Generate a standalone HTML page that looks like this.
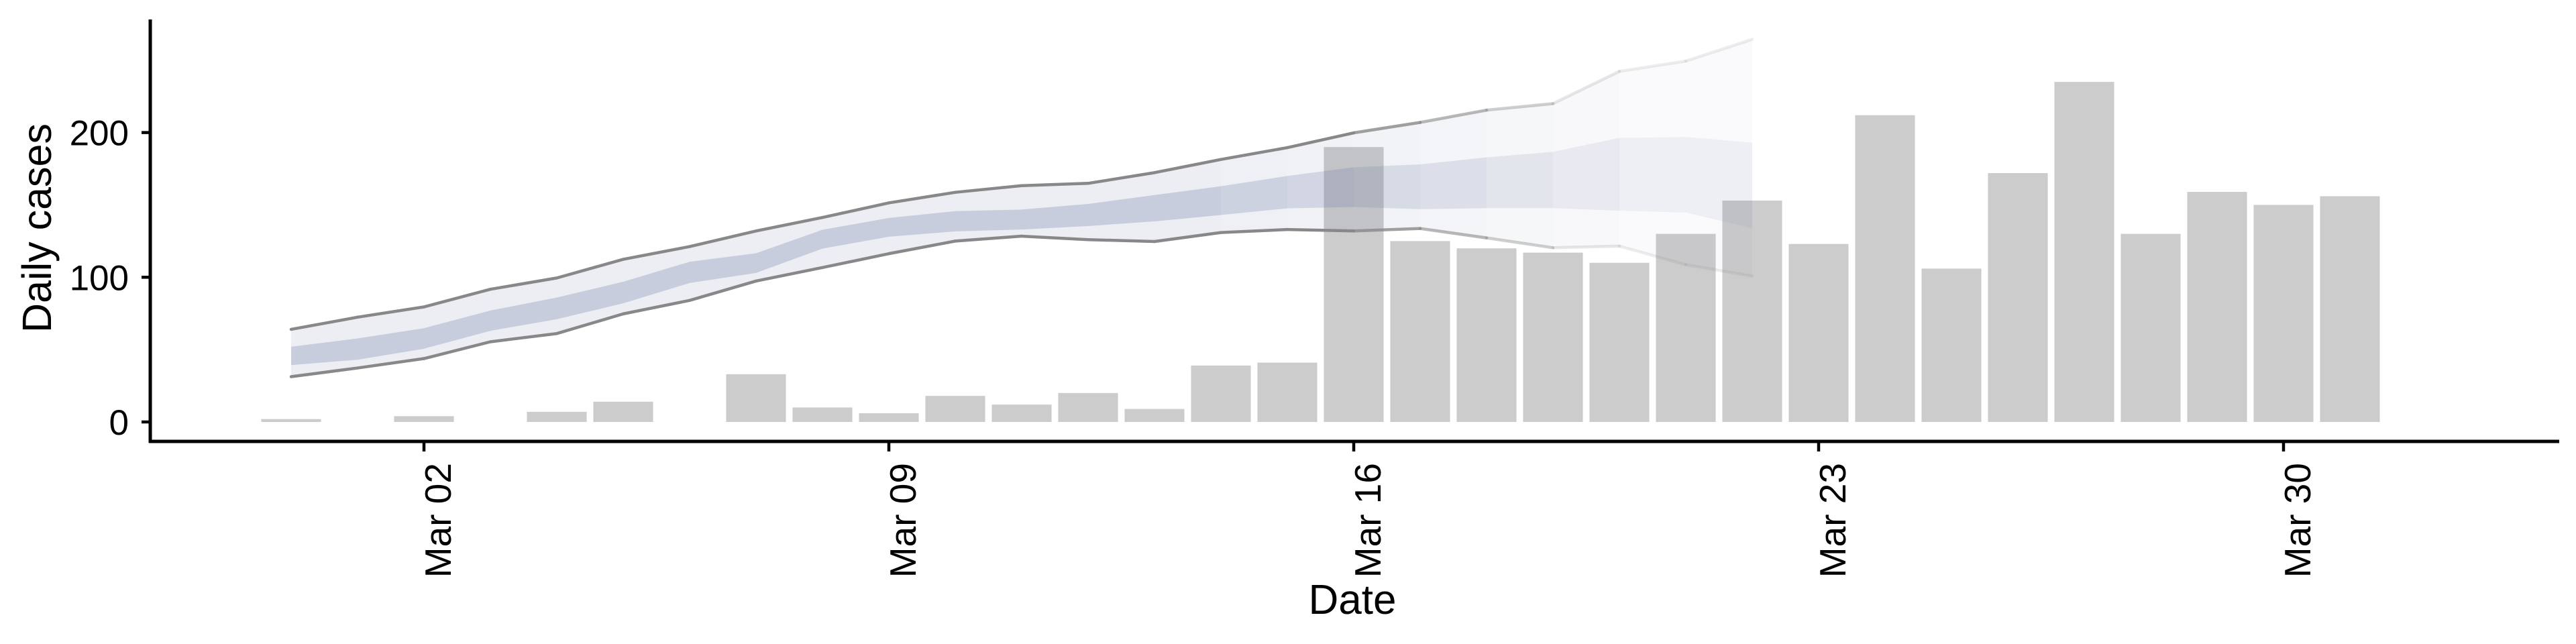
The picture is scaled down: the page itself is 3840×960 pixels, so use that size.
<!DOCTYPE html>
<html><head><meta charset="utf-8"><style>
html,body{margin:0;padding:0;background:#fff}
svg{display:block}
text{font-family:"Liberation Sans",sans-serif;fill:#000}
</style></head><body>
<svg id="chart" width="3840" height="960" viewBox="0 0 3840 960" xmlns="http://www.w3.org/2000/svg">
<g id="bars"></g>
<g id="band"></g>
<g id="axes"></g>
</svg>
<script>
// Day offsets relative to Mar 02 (Feb 29 = -2)
const barDays = [-2,0,2,3,5,6,7,8,9,10,11,12,13,14,15,16,17,18,19,20,21,22,23,24,25,26,27,28,29];
const barValues = [2,4,7,14,33,10,6,18,12,20,9,39,41,190,125,120,117,110,130,153,123,212,106,172,235,130,159,150,156];
const bandDays = [-2,-1,0,1,2,3,4,5,6,7,8,9,10,11,12,13,14,15,16,17,18,19,20];
const outerUpper = [64,72.4,79.5,91.7,99.5,112.4,121.2,132,141.3,151.4,158.7,163.3,164.9,172.3,181.4,189.6,199.8,207,215.5,220,242.3,249.4,264.4];
const outerLower = [31.3,37.3,43.8,55.4,61.1,74.7,84,97.4,106.7,116.3,125,128.4,126,124.7,130.9,133,132,133.7,127.2,120.4,121.5,108.7,100.8];
const innerUpper = [52,57.7,64.8,77,86,96.9,110.7,116.6,132.8,141,145.7,146.8,150.7,156.8,162.9,170,176,178,182.9,186.7,196.3,197,193];
const innerLower = [39.3,43,50.6,63,71,82,96,103,119.8,128,131.7,133,135.4,138.6,143,147.6,148.6,147,147.8,147.8,146,144.7,134];
const yTicks = [0,100,200];
const xTickDays = [0,7,14,21,28];
const xTickLabels = ["Mar 02","Mar 09","Mar 16","Mar 23","Mar 30"];

const NS="http://www.w3.org/2000/svg";
const X0=632, DAY=99.0, Y0=629, PER=2.157;
const xs=d=>X0+d*DAY;
const ys=v=>Y0-v*PER;
function mk(tag,attrs,parent){const e=document.createElementNS(NS,tag);for(const k in attrs)e.setAttribute(k,attrs[k]);parent.appendChild(e);return e;}

const gb=document.getElementById('bars');
barDays.forEach((d,i)=>{
  const w=DAY*0.9;
  const r=mk('rect',{x:xs(d)-w/2,y:ys(barValues[i]),width:w,height:barValues[i]*PER,fill:'#cccccc'},gb);
  
  
});

const gband=document.getElementById('band');
function fade(i){ return i<14?1:Math.max(0.3,1-(i-13)*0.1); }
function lineFade(i){return i<16?1:Math.max(0.15,1-(i-15)*0.2);}
for(let i=0;i<bandDays.length-1;i++){
  const a=bandDays[i],b=bandDays[i+1];
  const op=fade(i);
  const po=mk('polygon',{points:`${xs(a)},${ys(outerUpper[i])} ${xs(b)},${ys(outerUpper[i+1])} ${xs(b)},${ys(outerLower[i+1])} ${xs(a)},${ys(outerLower[i])}`,fill:'rgb(100,115,160)','fill-opacity':0.12*op},gband);
  
  
  const pi=mk('polygon',{points:`${xs(a)},${ys(innerUpper[i])} ${xs(b)},${ys(innerUpper[i+1])} ${xs(b)},${ys(innerLower[i+1])} ${xs(a)},${ys(innerLower[i])}`,fill:'rgb(100,115,160)','fill-opacity':0.265*op},gband);
  
  
  const lo=lineFade(i);
  const l1=mk('line',{x1:xs(a),y1:ys(outerUpper[i]),x2:xs(b),y2:ys(outerUpper[i+1]),stroke:'#888','stroke-width':4.5,'stroke-opacity':lo,'stroke-linecap':'round'},gband);
  
  
  const l2=mk('line',{x1:xs(a),y1:ys(outerLower[i]),x2:xs(b),y2:ys(outerLower[i+1]),stroke:'#888','stroke-width':4.5,'stroke-opacity':lo,'stroke-linecap':'round'},gband);
  
  
}

const ga=document.getElementById('axes');
const ya=mk('line',{x1:224,y1:29,x2:224,y2:660,stroke:'#000','stroke-width':5},ga);


const xa=mk('line',{x1:222,y1:658,x2:3815,y2:658,stroke:'#000','stroke-width':5},ga);


yTicks.forEach(v=>{
  const t=mk('line',{x1:211,y1:ys(v),x2:224,y2:ys(v),stroke:'#000','stroke-width':4.5},ga);
  
  
  const l=mk('text',{x:192,y:ys(v)+19,'text-anchor':'end','font-size':53},ga);
  l.textContent=v;
  
  
});
xTickDays.forEach((d,i)=>{
  const t=mk('line',{x1:xs(d),y1:658,x2:xs(d),y2:673,stroke:'#000','stroke-width':4.5},ga);
  
  
  const l=mk('text',{transform:`translate(${xs(d)+40},690) rotate(-90)`,'text-anchor':'end','font-size':55},ga);
  l.textContent=xTickLabels[i];
  
  
});
const xt=mk('text',{x:2016,y:915,'text-anchor':'middle','font-size':62},ga);
xt.textContent='Date';


const yt=mk('text',{transform:'translate(76,340) rotate(-90)','text-anchor':'middle','font-size':61},ga);
yt.textContent='Daily cases';


</script>
</body></html>
